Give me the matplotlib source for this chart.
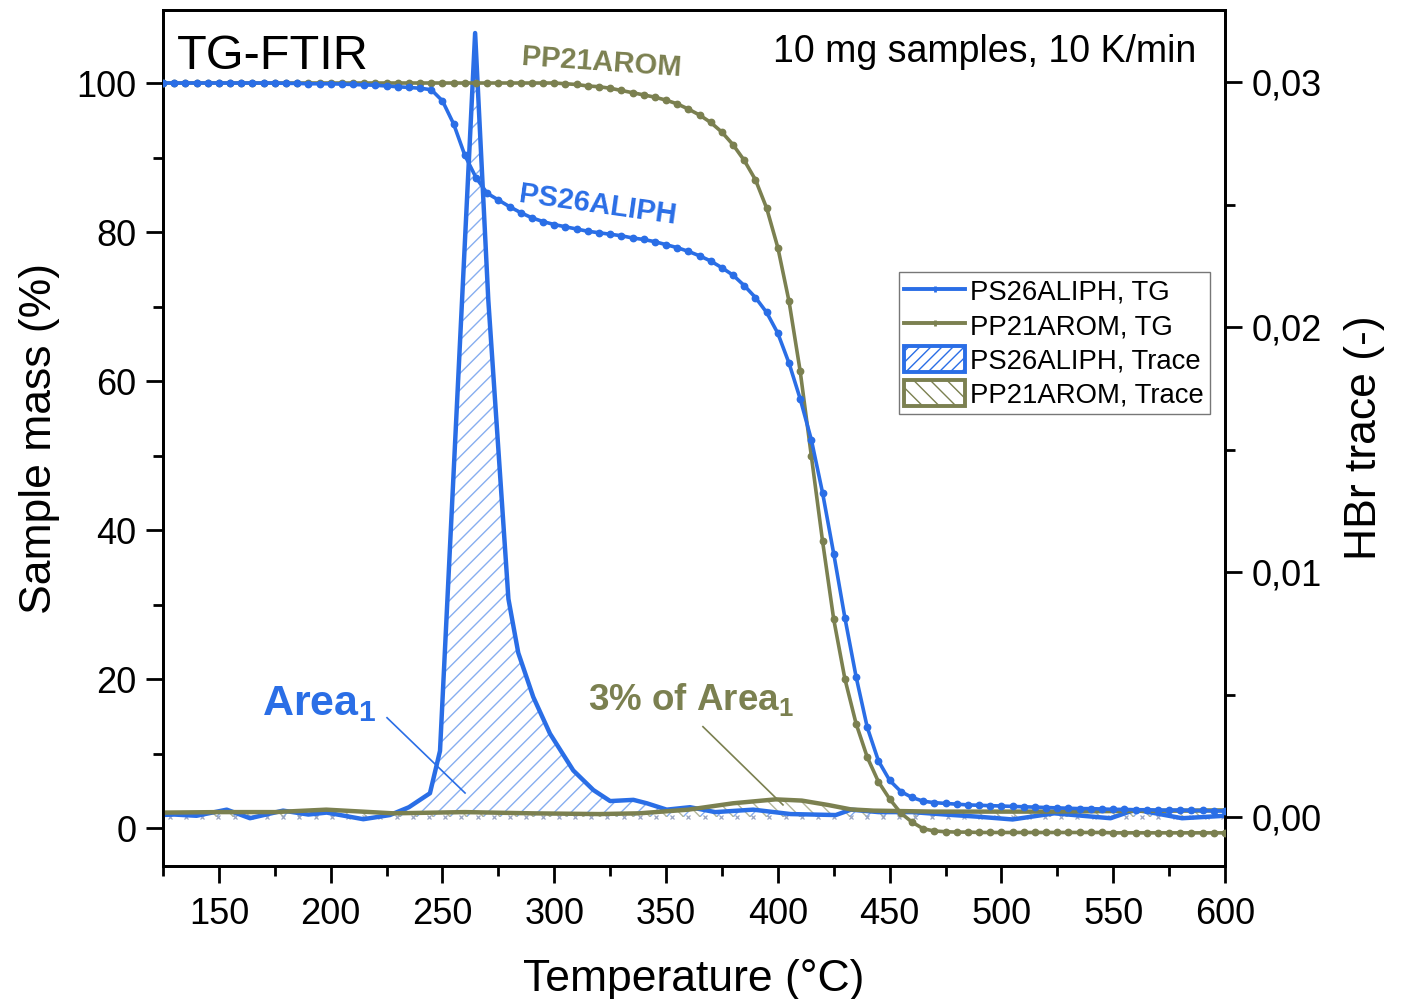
import numpy as np
import matplotlib
matplotlib.use("Agg")
import matplotlib.pyplot as plt
from matplotlib.lines import Line2D
from matplotlib.patches import Patch
from matplotlib.ticker import MultipleLocator, FixedLocator

plt.rcParams['font.family'] = ['Liberation Sans', 'DejaVu Sans']
plt.rcParams['mathtext.fontset'] = 'custom'
plt.rcParams['mathtext.rm'] = 'Liberation Sans'
plt.rcParams['mathtext.bf'] = 'Liberation Sans:bold'
plt.rcParams['hatch.linewidth'] = 1.0

BLUE = '#2a6ee6'
OLIVE = '#7b8050'
BLUE_H = '#86aef0'
OLIVE_H = '#b3b69a'

# ---------------- data ----------------
tg_temp = [125, 130, 135, 140, 145, 150, 155, 160, 165, 170, 175, 180, 185, 190, 195,
           200, 205, 210, 215, 220, 225, 230, 235, 240, 245, 250, 255, 260, 265, 270,
           275, 280, 285, 290, 295, 300, 305, 310, 315, 320, 325, 330, 335, 340, 345,
           350, 355, 360, 365, 370, 375, 380, 385, 390, 395, 400, 405, 410, 415, 420,
           425, 430, 435, 440, 445, 450, 455, 460, 465, 470, 475, 480, 485, 490, 495,
           500, 505, 510, 515, 520, 525, 530, 535, 540, 545, 550, 555, 560, 565, 570,
           575, 580, 585, 590, 595, 600]

ps_tg = [100.0, 100.0, 100.0, 100.0, 100.0, 100.0, 100.0, 100.0, 100.0, 100.0, 100.0, 99.95, 99.95, 99.9, 99.9,
         99.9, 99.85, 99.8, 99.75, 99.7, 99.6, 99.5, 99.4, 99.3, 99.1, 97.6, 94.5, 90.3, 87.3, 85.2,
         84.3, 83.4, 82.6, 81.9, 81.4, 81.0, 80.7, 80.4, 80.1, 79.9, 79.7, 79.5, 79.2, 79.0, 78.7,
         78.3, 77.9, 77.4, 76.8, 76.1, 75.2, 74.2, 72.8, 71.2, 69.2, 66.4, 62.4, 57.6, 52.1, 45.0,
         36.8, 28.2, 20.3, 13.5, 9.0, 6.4, 4.9, 4.1, 3.6, 3.4, 3.3, 3.2, 3.1, 3.05, 3.0,
         2.95, 2.9, 2.85, 2.8, 2.75, 2.7, 2.65, 2.6, 2.6, 2.55, 2.5, 2.5, 2.45, 2.45, 2.4,
         2.4, 2.4, 2.35, 2.35, 2.3, 2.3]

pp_tg = [100.0, 100.0, 100.0, 100.0, 100.0, 100.0, 100.0, 100.0, 100.0, 100.0, 100.0, 100.0, 100.0, 100.0, 100.0,
         100.0, 100.0, 100.0, 100.0, 100.0, 100.0, 100.0, 100.0, 100.0, 100.0, 100.0, 100.0, 100.0, 100.0, 100.0,
         100.0, 100.0, 100.0, 100.0, 100.0, 100.0, 99.9, 99.8, 99.6, 99.5, 99.3, 99.0, 98.7, 98.4, 98.1,
         97.7, 97.2, 96.5, 95.7, 94.7, 93.4, 91.7, 89.6, 87.0, 83.2, 77.9, 70.7, 61.3, 49.9, 38.5,
         28.0, 20.0, 14.0, 9.5, 6.2, 3.9, 2.0, 0.8, -0.1, -0.4, -0.5, -0.55, -0.55, -0.6, -0.6,
         -0.6, -0.6, -0.6, -0.6, -0.6, -0.6, -0.6, -0.6, -0.6, -0.6, -0.65, -0.65, -0.65, -0.65, -0.65,
         -0.65, -0.65, -0.65, -0.65, -0.65, -0.65]

ps_trace_temp = [123.7, 130, 140, 153.5, 163.9, 178.7, 190, 198.2, 214.6, 226.5, 235, 244.4, 248.9,
                 264.6, 270.5, 279.5, 283.9, 290.6, 298.1, 308.5, 317.5, 325, 335.4, 341.4, 350.3,
                 360.7, 372, 389, 405.7, 425.9, 432.7, 445, 460, 475, 489.9, 505, 523.6, 548.8,
                 560, 580.8, 600]
ps_trace = [0.00008, 0.0001, 0.00005, 0.0003, -0.00005, 0.00026, 0.0001, 0.00018, -0.00009,
            0.00008, 0.0004, 0.00097, 0.0027, 0.0320, 0.0211, 0.0089, 0.0067, 0.0049, 0.0034,
            0.0019, 0.0011, 0.00065, 0.0007, 0.00056, 0.0003, 0.0004, 0.0002, 0.0003, 0.00012,
            0.00008, 0.0003, 0.0002, 0.0002, 0.0001, 0.00001, -0.0001, 0.00015, -0.00005,
            0.0003, -0.00005, 0.00005]

pp_trace_temp = [125, 150, 175, 198, 228, 260, 290, 320, 338, 360, 380, 399, 410.7, 422.5,
                 432.7, 442.8, 470, 520, 560, 600]
pp_trace = [0.00018, 0.0002, 0.0002, 0.0003, 0.00015, 0.0002, 0.00015, 0.00012, 0.00015,
            0.0003, 0.00056, 0.00072, 0.00067, 0.00049, 0.00031, 0.00026, 0.00022, 0.00022,
            0.00025, 0.00027]

baseline_temp = list(np.arange(128, 600, 7.25))
baseline_val = [0.0] * len(baseline_temp)

# ---------------- figure ----------------
fig = plt.figure(figsize=(14.07, 9.99), dpi=100)
ax = fig.add_axes([163/1407, 1-866/999, (1225-163)/1407, (866-10)/999])
ax2 = ax.twinx()

ax.set_xlim(125, 600)
ax.set_ylim(-5.1, 109.8)
ax2.set_ylim(-0.00200, 0.03294)

# traces (right axis)
ax2.fill_between(ps_trace_temp, ps_trace, 0, facecolor='none', edgecolor=BLUE_H,
                 linewidth=0, hatch='//', zorder=1)
ax2.fill_between(pp_trace_temp, pp_trace, 0, facecolor='none', edgecolor=OLIVE_H,
                 linewidth=0, hatch='\\\\', zorder=1)
ax2.plot(baseline_temp, baseline_val, linestyle='none', marker='x', markersize=3.5,
         markeredgewidth=0.9, color='#9aa6c4', zorder=2)
ax2.plot(ps_trace_temp, ps_trace, color=BLUE, lw=3.2, zorder=3, solid_joinstyle='round')
ax2.plot(pp_trace_temp, pp_trace, color=OLIVE, lw=3.2, zorder=3, solid_joinstyle='round')

# TG (left axis) on top
ax.set_zorder(ax2.get_zorder() + 1)
ax.patch.set_visible(False)
ax.plot(tg_temp, pp_tg, color=OLIVE, lw=2.6, marker='o', markersize=4.6, zorder=4)
ax.plot(tg_temp, ps_tg, color=BLUE, lw=2.6, marker='o', markersize=4.6, zorder=5)

# ticks
ax.xaxis.set_major_locator(FixedLocator([150, 200, 250, 300, 350, 400, 450, 500, 550, 600]))
ax.xaxis.set_minor_locator(MultipleLocator(25))
ax.yaxis.set_major_locator(FixedLocator([0, 20, 40, 60, 80, 100]))
ax.yaxis.set_minor_locator(FixedLocator([10, 30, 50, 70, 90]))
ax2.yaxis.set_major_locator(FixedLocator([0.0, 0.01, 0.02, 0.03]))
ax2.yaxis.set_minor_locator(FixedLocator([0.005, 0.015, 0.025]))
ax2.set_yticklabels(['0,00', '0,01', '0,02', '0,03'])

for a in (ax, ax2):
    a.tick_params(which='major', direction='out', length=12, width=2, labelsize=26, pad=7)
    a.tick_params(which='minor', direction='out', length=7, width=2)
    for s in a.spines.values():
        s.set_linewidth(2)
ax.tick_params(axis='x', pad=10)
ax.tick_params(top=False, right=False)
ax.tick_params(which='minor', top=False, right=False)

ax.set_xlabel('Temperature (°C)', fontsize=32, labelpad=20)
ax.set_ylabel('Sample mass (%)', fontsize=32, labelpad=12)
ax2.set_ylabel('HBr trace (-)', fontsize=32, labelpad=16)

# texts
ax.text(0.013, 0.972, 'TG-FTIR', transform=ax.transAxes, fontsize=35, va='top', ha='left')
ax.text(0.973, 0.972, '10 mg samples, 10 K/min', transform=ax.transAxes, fontsize=27,
        va='top', ha='right')
ax.text(285, 102.8, 'PP21AROM', color=OLIVE, fontsize=21, fontweight='bold',
        rotation=-4, ha='left', va='center')
ax.text(283.3, 83.6, 'PS26ALIPH', color=BLUE, fontsize=21, fontweight='bold',
        rotation=-8, ha='left', va='center')

ax.text(169.3, 15.2, r'Area$_{\mathbf{1}}$', color=BLUE, fontsize=31, fontweight='bold',
        ha='left', va='baseline')
ax.plot([225.2, 260.1], [14.8, 4.7], color=BLUE, lw=1.2)
ax.text(315.1, 15.7, r'3% of Area$_{\mathbf{1}}$', color=OLIVE, fontsize=26.5, fontweight='bold',
        ha='left', va='baseline')
ax.plot([366.5, 402.3], [13.6, 3.1], color=OLIVE, lw=1.2)

# legend
handles = [
    Line2D([], [], color=BLUE, lw=2.8, marker='|', markersize=5, markeredgewidth=2),
    Line2D([], [], color=OLIVE, lw=2.8, marker='|', markersize=5, markeredgewidth=2),
    Patch(facecolor='white', edgecolor=BLUE, hatch='///', linewidth=2.8),
    Patch(facecolor='white', edgecolor=OLIVE, hatch='\\\\', linewidth=2.8),
]
labels = ['PS26ALIPH, TG', 'PP21AROM, TG', 'PS26ALIPH, Trace', 'PP21AROM, Trace']
leg = ax.legend(handles, labels, loc='upper left', bbox_to_anchor=(0.693, 0.694),
                borderaxespad=0, fontsize=19.8, frameon=True, fancybox=False,
                edgecolor='#555555', handlelength=2.2, handleheight=1.1,
                handletextpad=0.2, labelspacing=0.2, borderpad=0.2)
leg.get_frame().set_linewidth(1.0)

fig.savefig('out.png', dpi=100)
